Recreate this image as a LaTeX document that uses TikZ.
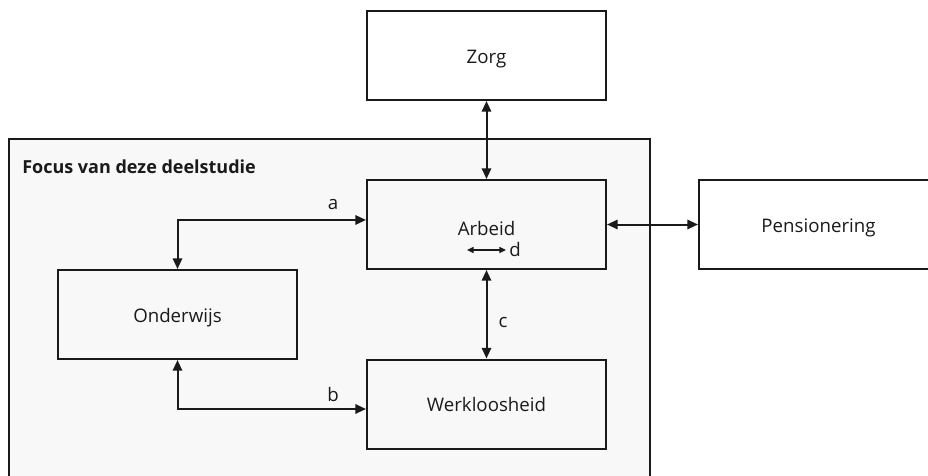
\documentclass[tikz,border=0pt]{standalone}
\usepackage{fontspec}
\setmainfont{Open Sans}
\usetikzlibrary{arrows.meta}
\definecolor{ink}{HTML}{1A1A1A}
\definecolor{panel}{HTML}{F8F8F8}
\begin{document}
\begin{tikzpicture}[x=0.75pt,y=-0.75pt,
  font=\fontsize{14}{17}\selectfont,
  box/.style={draw=ink,line width=1.5pt,minimum width=179.25pt,minimum height=66.75pt,
    inner sep=0pt,text height=1.15em,text depth=0pt,text=ink},
  link/.style={draw=ink,line width=1.5pt,{Triangle[length=8pt,width=7pt]}-{Triangle[length=8pt,width=7pt]}},
  tag/.style={text=ink,inner sep=0pt}
]
\useasboundingbox (0,0) rectangle (928,475);
\clip (0,0) rectangle (928,475);
\fill[white] (0,0) rectangle (928,475);

% study focus panel (open at the bottom)
\fill[panel] (9,139) rectangle (650,490);
\draw[ink,line width=1.5pt] (9,490) -- (9,139) -- (650,139) -- (650,490);
\node[tag,anchor=west,font=\fontsize{13.5}{16}\selectfont\bfseries] (title) at (22,167) {Focus van deze deelstudie};

% boxes
\node[box,fill=white] (zorg) at (486.5,55.5) {Zorg};
\node[box] (arbeid) at (486.5,224.5) {};
\node[tag] (arbeidtxt) at (486.5,228) {Arbeid};
\node[box,fill=white] (pens) at (818.5,224.5) {Pensionering};
\node[box] (onder) at (177.5,314.5) {Onderwijs};
\node[box] (werk) at (486.5,404) {Werkloosheid};

% connectors
\draw[link] (zorg.south) -- (arbeid.north);
\draw[link] (arbeid.east) -- (pens.west);
\draw[link] (arbeid.south) -- (werk.north);
\draw[link] ([yshift=3.4pt]arbeid.west) -| (onder.north);
\draw[link] (onder.south) |- ([yshift=-3.75pt]werk.west);

% movement within employment
\coordinate (d1) at (467,250);
\coordinate (d2) at (506,250);
\draw[draw=ink,line width=1.1pt,{Triangle[length=5pt,width=4.5pt]}-{Triangle[length=5pt,width=4.5pt]}] (d1) -- (d2);

% labels
\node[tag] (la) at (333,205) {a};
\node[tag] (lb) at (333,394) {b};
\node[tag] (lc) at (503,322) {c};
\node[tag,anchor=west] (ld) at (509,249) {d};
\end{tikzpicture}
\end{document}
